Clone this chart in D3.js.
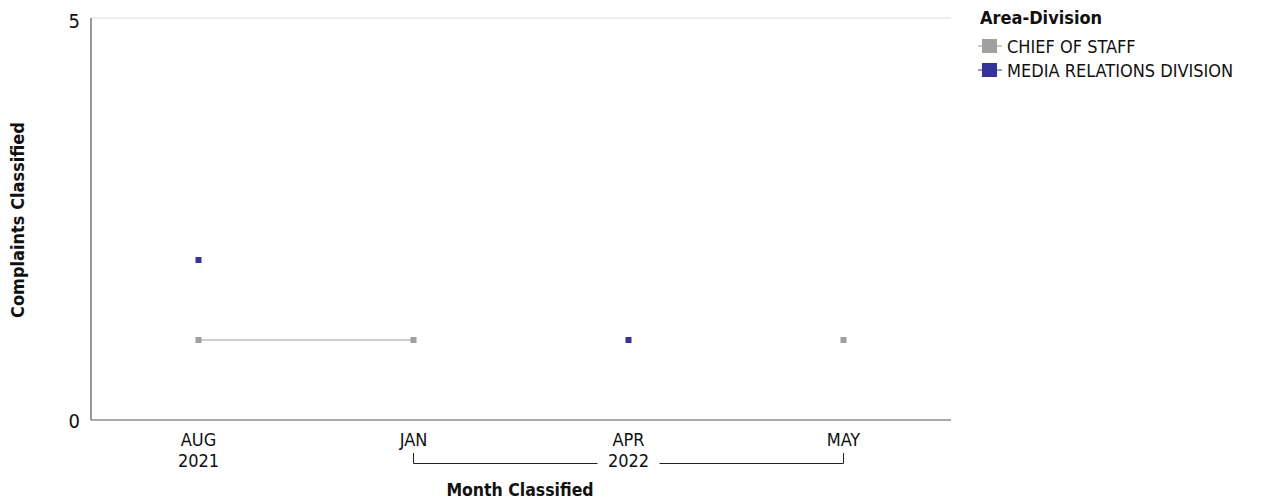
<!DOCTYPE html>
<html>
<head>
<meta charset="utf-8">
<script src="https://cdn.jsdelivr.net/npm/d3@7"></script>
<style>
  body { margin: 0; background: #fff; }
  text { font-family: "DejaVu Sans Condensed", "DejaVu Sans", sans-serif; }
</style>
</head>
<body>
<svg id="chart" width="1265" height="500"></svg>
<script>
// months on the x axis
const months = ['AUG', 'JAN', 'APR', 'MAY'];
const years = [{ label: '2021', from: 'AUG', to: 'AUG' }, { label: '2022', from: 'JAN', to: 'MAY' }];
const seriesNames = ['CHIEF OF STAFF', 'MEDIA RELATIONS DIVISION'];
const seriesColors = ['#a0a0a0', '#333399'];
// null = no value that month
const chiefOfStaff = [1, 1, null, 1];
const mediaRelations = [2, null, 1, null];
const yTicks = [0, 5];

const svg = d3.select('#chart');
const pLeft = 91, pRight = 951, pTop = 20, pBottom = 420;

const x = d3.scaleBand().domain(months).range([pLeft, pRight]);
const y = d3.scaleLinear().domain([0, 5]).range([pBottom, pTop]);
const cx = m => x(m) + x.bandwidth() / 2;

// frame: light top line, dark axes
svg.append('line').attr('x1', pLeft).attr('x2', pRight).attr('y1', pTop - 2).attr('y2', pTop - 2)
  .attr('stroke', '#ddd');
svg.append('line').attr('x1', pLeft).attr('x2', pLeft).attr('y1', pTop - 2).attr('y2', pBottom)
  .attr('stroke', '#333');
svg.append('line').attr('x1', pLeft).attr('x2', pRight).attr('y1', pBottom).attr('y2', pBottom)
  .attr('stroke', '#555');

svg.selectAll('.ytick').data(yTicks).enter().append('text')
  .attr('x', pLeft - 11).attr('y', d => y(d) + 8)
  .attr('text-anchor', 'end').attr('font-size', 20).attr('fill', '#111')
  .text(d => d);

// month labels
svg.selectAll('.mlab').data(months).enter().append('text')
  .attr('x', d => cx(d)).attr('y', 446)
  .attr('text-anchor', 'middle').attr('font-size', 18).attr('fill', '#111')
  .text(d => d);

// year labels / brackets
years.forEach(yr => {
  const x1 = cx(yr.from), x2 = cx(yr.to), mid = (x1 + x2) / 2;
  svg.append('text').attr('x', mid).attr('y', 467)
    .attr('text-anchor', 'middle').attr('font-size', 18).attr('fill', '#111')
    .text(yr.label);
  if (x2 > x1) {
    const gap = 31;
    svg.append('path')
      .attr('d', `M${x1},453V463.5H${mid - gap}M${mid + gap},463.5H${x2}V453`)
      .attr('fill', 'none').attr('stroke', '#222');
  }
});

svg.append('text').attr('x', 520).attr('y', 496)
  .attr('text-anchor', 'middle').attr('font-size', 17.5).attr('font-weight', 'bold').attr('fill', '#111')
  .text('Month Classified');

svg.append('text').attr('transform', `translate(24,${(pTop + pBottom) / 2}) rotate(-90)`)
  .attr('text-anchor', 'middle').attr('font-size', 18).attr('font-weight', 'bold').attr('fill', '#111')
  .text('Complaints Classified');

// series
const allSeries = [chiefOfStaff, mediaRelations];
const line = d3.line().defined(d => d.v !== null).x(d => cx(d.m)).y(d => y(d.v));

allSeries.forEach((vals, i) => {
  const pts = months.map((m, j) => ({ m: m, v: vals[j] }));
  svg.append('path').datum(pts).attr('d', line)
    .attr('fill', 'none').attr('stroke', i === 0 ? '#bdbdbd' : '#7777bb').attr('stroke-width', 1.5);
  svg.selectAll('.pt' + i).data(pts.filter(d => d.v !== null)).enter().append('rect')
    .attr('x', d => cx(d.m) - 3).attr('y', d => y(d.v) - 3)
    .attr('width', 6).attr('height', 6).attr('fill', seriesColors[i]);
});

// legend
const lg = svg.append('g').attr('transform', 'translate(980,0)');
lg.append('text').attr('x', 0).attr('y', 24).attr('font-size', 18).attr('font-weight', 'bold')
  .attr('fill', '#111').text('Area-Division');
seriesNames.forEach((n, i) => {
  const yy = 46 + i * 24;
  lg.append('line').attr('x1', -2).attr('x2', 22).attr('y1', yy).attr('y2', yy)
    .attr('stroke', i === 0 ? '#bdbdbd' : '#7777bb').attr('stroke-width', 1.5);
  lg.append('rect').attr('x', 2).attr('y', yy - 7).attr('width', 15).attr('height', 14)
    .attr('fill', seriesColors[i]);
  lg.append('text').attr('x', 27).attr('y', yy + 7).attr('font-size', 18).attr('fill', '#111').text(n);
});
</script>
</body>
</html>
